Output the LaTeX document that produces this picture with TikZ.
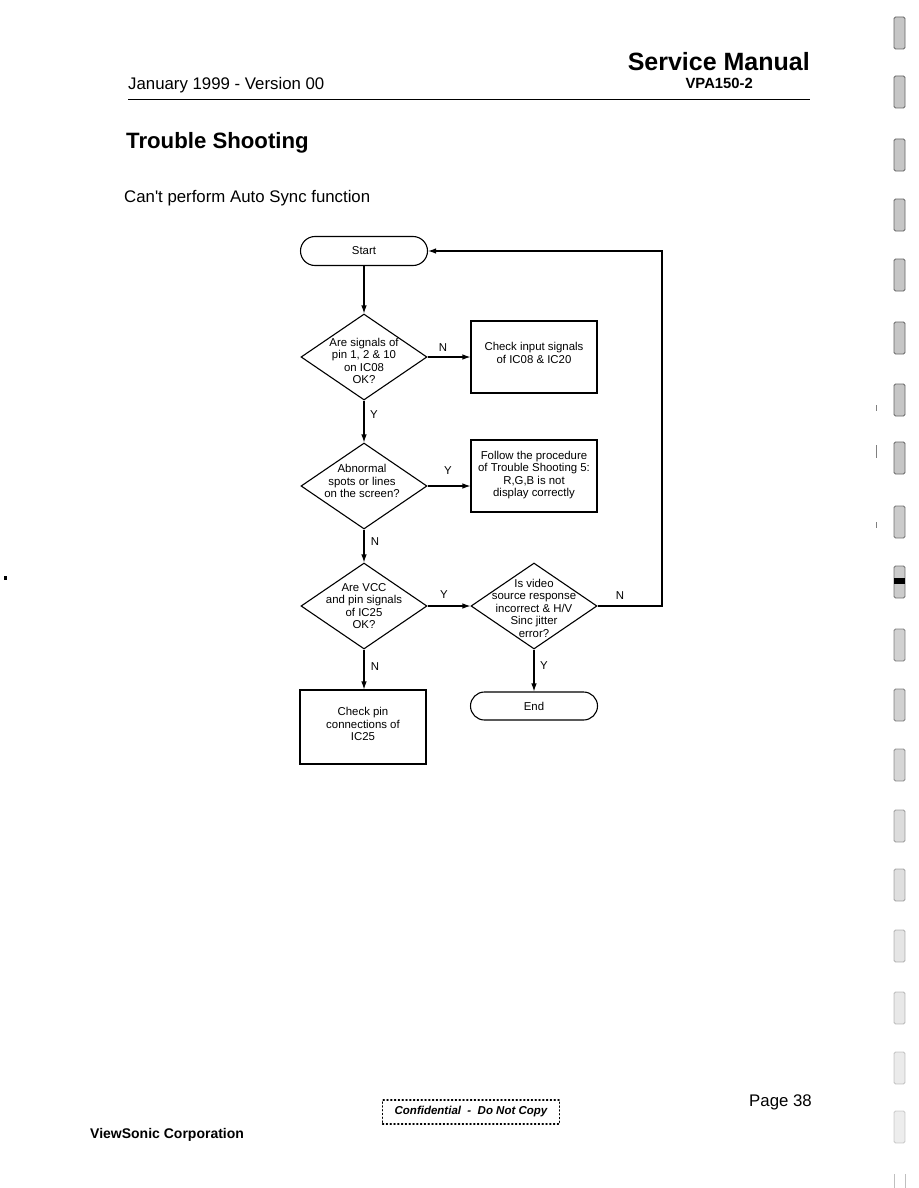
\documentclass[tikz,border=0pt]{standalone}
\usepackage{fontspec}
\setmainfont{Liberation Sans}
\usetikzlibrary{shapes.geometric,shapes.misc,arrows.meta}
\tikzset{
  box/.style={draw, line width=1.1pt, minimum width=126pt, minimum height=72pt, inner sep=0pt, align=center, font=\fontsize{11.4}{12.5}\selectfont},
  term/.style={draw, rounded rectangle, line width=1.1pt, minimum width=127pt, minimum height=29pt, inner sep=0pt, font=\fontsize{11.4}{12.5}\selectfont},
  dia/.style={draw, diamond, line width=1.1pt, minimum width=126pt, minimum height=86pt, inner sep=0pt},
  dtext/.style={align=center, inner sep=0pt, font=\fontsize{11.4}{12.5}\selectfont},
  lbl/.style={inner sep=0pt, font=\fontsize{11.4}{12}\selectfont},
  conn/.style={line width=1.1pt, -{Latex[length=8pt,width=5.5pt]}},
  hole/.style={draw=gray!80!black, fill=gray!45, rounded corners=1.5pt, line width=0.8pt}
}
\begin{document}
\begin{tikzpicture}[x=1pt,y=-1pt]
\useasboundingbox (0,0) rectangle (918,1188);
\fill[white] (0,0) rectangle (918,1188);

% header
\node[anchor=base east, inner sep=0pt, font=\bfseries\fontsize{25}{28}\selectfont] (sm) at (810,71) {Service Manual};
\node[anchor=base east, inner sep=0pt, font=\bfseries\fontsize{14.8}{16}\selectfont] (vpa) at (753,89) {VPA150-2};
\node[anchor=base west, inner sep=0pt, font=\fontsize{16.8}{19}\selectfont] (jan) at (128,90) {January 1999 - Version 00};
\coordinate (rl) at (128,100);
\coordinate (rr) at (810,100);
\draw[line width=1pt] (rl) -- (rr);

\node[anchor=base west, inner sep=0pt, font=\bfseries\fontsize{22.2}{25}\selectfont] (title) at (126,149) {Trouble Shooting};
\node[anchor=base west, inner sep=0pt, font=\fontsize{16.8}{19}\selectfont] (sub) at (124,202) {Can\textquotesingle t perform Auto Sync function};

% flowchart
\node[term] (start) at (364,251) {Start};
\node[dia] (d1) at (364,357) {};
\node[dtext] (d1t) at (364,361) {Are signals of\\pin 1, 2 \& 10\\on IC08\\OK?};
\node[box] (b1) at (534,357) {};
\node[dtext] (b1t) at (534,353) {Check input signals\\of IC08 \& IC20};

\node[dia] (d2) at (364,486) {};
\node[dtext] (d2t) at (362,481) {Abnormal\\spots or lines\\on the screen?};
\node[box] (b2) at (534,476) {};
\node[dtext] (b2t) at (534,475) {Follow the procedure\\of Trouble Shooting 5:\\R,G,B is not\\display correctly};

\node[dia] (d3) at (364,606) {};
\node[dtext] (d3t) at (364,606) {Are VCC\\and pin signals\\of IC25\\OK?};
\node[dia] (d4) at (534,606) {};
\node[dtext] (d4t) at (534,608) {Is video\\source response\\incorrect \& H/V\\Sinc jitter\\error?};

\node[box, minimum height=74pt] (b3) at (363,727) {};
\node[dtext] (b3t) at (363,724) {Check pin\\connections of\\IC25};
\node[term, minimum height=28pt] (end) at (534,706) {End};

\coordinate (loopa) at (662,606);

\draw[conn] (start.south) -- (d1.north);
\draw[conn] (d1.east) -- (b1.west);
\draw[conn] (d1.south) -- (d2.north);
\draw[conn] (d2.east) -- (d2.east -| b2.west);
\draw[conn] (d2.south) -- (d3.north);
\draw[conn] (d3.east) -- (d4.west);
\draw[conn] (d3.south) -- (d3.south |- b3.north);
\draw[conn] (d4.south) -- (end.north);
\draw[conn] (d4.east) -- (loopa) |- (start.east);

\node[lbl] (l1) at (443,348) {N};
\node[lbl] (l2) at (374,415) {Y};
\node[lbl] (l3) at (448,471) {Y};
\node[lbl] (l4) at (375,542) {N};
\node[lbl] (l5) at (444,595) {Y};
\node[lbl] (l6) at (620,596) {N};
\node[lbl] (l7) at (375,667) {N};
\node[lbl] (l8) at (544,666) {Y};

% footer
\node[anchor=base west, inner sep=0pt, font=\bfseries\fontsize{14}{16}\selectfont] (vs) at (90,1138) {ViewSonic Corporation};
\node[anchor=base east, inner sep=0pt, font=\fontsize{16.8}{19}\selectfont] (pg) at (812,1106) {Page 38};
\node[draw, dash pattern=on 1.2pt off 2.6pt, line width=1.2pt, line cap=round, minimum width=177pt, minimum height=24pt, inner sep=0pt, font=\bfseries\itshape\fontsize{11.5}{13}\selectfont] (conf) at (471,1112) {Confidential \ - \ Do Not Copy};

% scan edge artefacts
\foreach \yc/\op in {33/1,92/1,155/1,215/1,275/1,338/1,400/1,458/1,522/0.9,582/0.9,645/0.8,705/0.8,765/0.7,826/0.6,885/0.55,946/0.45,1008/0.4,1068/0.35,1127/0.3}{
  \draw[hole, opacity=\op] (894,\yc-16) rectangle (905,\yc+16);
}
\fill[black] (894,578) rectangle (905,584);
\draw[gray, line width=0.6pt, opacity=0.5] (894,1174) -- (894,1188) (905,1174) -- (905,1188);
\fill[black] (4,576) rectangle (7,580);
\draw[gray, line width=0.7pt] (876,405) -- (876,411) (876,445) -- (876,458) (876,522) -- (876,528);
\end{tikzpicture}
\end{document}
